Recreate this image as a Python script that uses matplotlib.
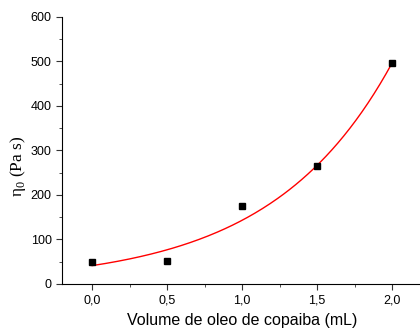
import numpy as np
import matplotlib.pyplot as plt
from matplotlib.ticker import MultipleLocator, FuncFormatter

# data points
volume = [0.0, 0.5, 1.0, 1.5, 2.0]
eta0 = [50, 52, 176, 265, 496]

# exponential fit (log-linear)
b, ln_a = np.polyfit(volume, np.log(eta0), 1)
x_fit = np.linspace(0.0, 2.0, 200)
y_fit = np.exp(ln_a) * np.exp(b * x_fit)

plt.rcParams["font.family"] = "Liberation Sans"

fig = plt.figure(figsize=(4.2, 3.31), dpi=100)
ax = fig.add_axes([0.148, 0.142, 0.857, 0.807])

ax.plot(x_fit, y_fit, color="red", lw=1.0)
ax.plot(volume, eta0, "s", color="black", ms=5)

ax.set_xlim(-0.2, 2.2)
ax.set_ylim(0, 600)
ax.xaxis.set_major_locator(MultipleLocator(0.5))
ax.xaxis.set_minor_locator(MultipleLocator(0.25))
ax.yaxis.set_major_locator(MultipleLocator(100))
ax.yaxis.set_minor_locator(MultipleLocator(50))
ax.xaxis.set_major_formatter(FuncFormatter(lambda v, p: f"{v:.1f}".replace(".", ",")))

ax.spines["top"].set_visible(False)
ax.spines["right"].set_visible(False)
ax.tick_params(which="major", direction="out", length=4, labelsize=9, color="#333333")
ax.tick_params(which="minor", direction="out", length=2.5, color="#333333")

ax.set_xlabel("Volume de oleo de copaiba (mL)", fontsize=11.5, labelpad=5)
ax.set_ylabel(r"η$_{\mathregular{0}}$ (Pa s)", fontsize=12.5, family="Liberation Serif")
ax.yaxis.set_label_coords(-0.095, 0.44)

fig.savefig("out.png", dpi=100)
